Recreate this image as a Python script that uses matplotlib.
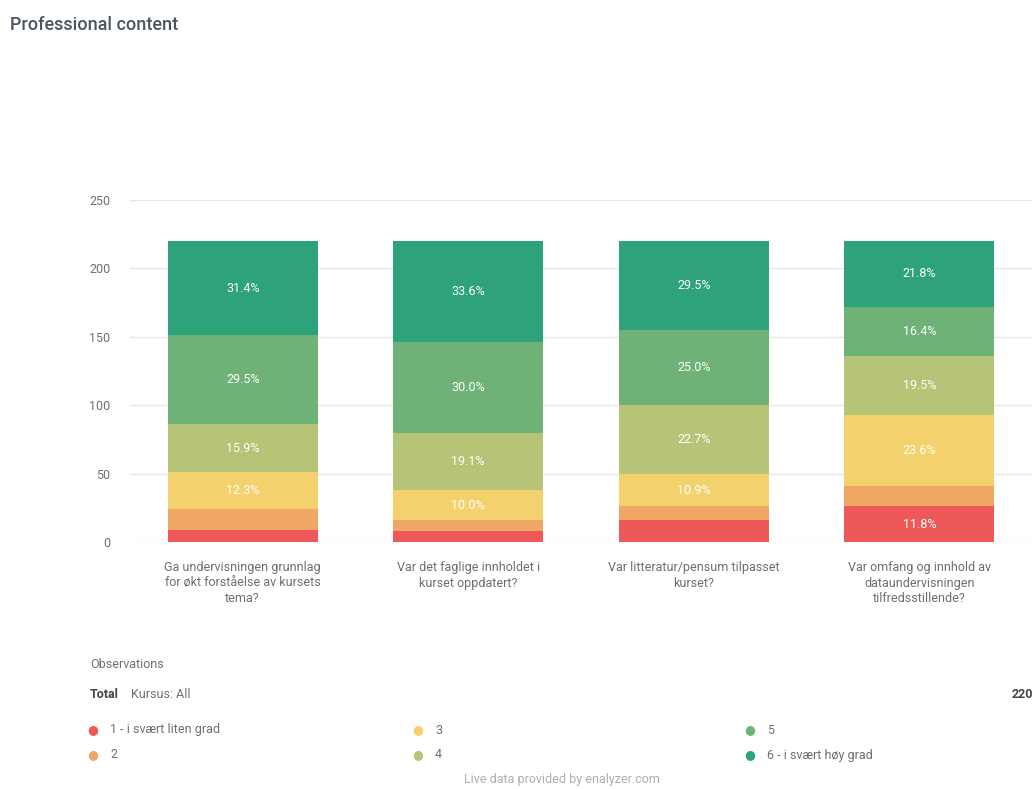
import matplotlib
matplotlib.use("Agg")
import matplotlib.pyplot as plt
import numpy as np

plt.rcParams['font.family'] = ['Roboto', 'DejaVu Sans']

categories = [
    "Ga undervisningen grunnlag\nfor økt forståelse av kursets\ntema?",
    "Var det faglige innholdet i\nkurset oppdatert?",
    "Var litteratur/pensum tilpasset\nkurset?",
    "Var omfang og innhold av\ndataundervisningen\ntilfredsstillende?",
]
series_names = ["1 - i svært liten grad", "2", "3", "4", "5", "6 - i svært høy grad"]
s1 = [9, 8, 16, 26]
s2 = [15, 8, 10, 15]
s3 = [27, 22, 24, 52]
s4 = [35, 42, 50, 43]
s5 = [65, 66, 55, 36]
s6 = [69, 74, 65, 48]
series = [s1, s2, s3, s4, s5, s6]
colors = ["#ee5858", "#f0a665", "#f3d26e", "#b5c476", "#6fb277", "#2ea27b"]
yticks = [0, 50, 100, 150, 200, 250]
total_n = 220

W, H = 1035, 789
fig = plt.figure(figsize=(W / 100, H / 100), dpi=100)
ax = fig.add_axes([130 / W, 1 - 542 / H, 902 / W, (542 - 200) / H])

x = np.arange(len(categories))
bottom = np.zeros(len(categories))
totals = np.sum(series, axis=0)
for vals, col in zip(series, colors):
    vals = np.array(vals, dtype=float)
    ax.bar(x, vals, bottom=bottom, width=0.667, color=col, zorder=2)
    for xi, v, b, t in zip(x, vals, bottom, totals):
        pct = v / t * 100
        if pct >= 10:
            ax.text(xi, b + v / 2, f"{pct:.1f}%", ha="center", va="center",
                    color="white", fontsize=9, zorder=3)
    bottom += vals

ax.set_xlim(-0.5, len(categories) - 0.5)
ax.set_ylim(0, 250)
ax.set_yticks(yticks)
ax.set_yticklabels([str(t) for t in yticks])
ax.set_xticks(x)
ax.set_xticklabels(categories, fontsize=9, color="#6b6f75", linespacing=1.25)
ax.tick_params(axis="y", length=0, pad=14, labelcolor="#6b6f75", labelsize=9)
ax.tick_params(axis="x", length=0, pad=14)
ax.grid(axis="y", color="#e6e6e6", linewidth=1, zorder=0)
for s in ax.spines.values():
    s.set_visible(False)

fig.text(10 / W, 1 - 25 / H, "Professional content", fontsize=13, color="#4a5560",
         fontweight="medium", ha="left", va="center")

fig.text(90 / W, 1 - 664 / H, "Observations", fontsize=9, color="#6b6f75", va="center")
fig.text(90 / W, 1 - 694 / H, "Total", fontsize=9, color="#444444", fontweight="bold", va="center")
fig.text(131 / W, 1 - 694 / H, "Kursus: All", fontsize=9, color="#6b6f75", va="center")
fig.text(1033 / W, 1 - 694 / H, str(total_n), fontsize=9, color="#444444", fontweight="bold",
         va="center", ha="right")

leg_x = [93, 418, 750]
leg_y = [730, 755]
for i, (name, col) in enumerate(zip(series_names, colors)):
    cx = leg_x[i // 2]
    cy = leg_y[i % 2]
    fig.text(cx / W, 1 - cy / H, "●", fontsize=9, color=col, ha="center", va="center")
    fig.text((cx + 17) / W, 1 - cy / H, name, fontsize=9, color="#6b6f75", va="center")

fig.text(562 / W, 1 - 780 / H, "Live data provided by enalyzer.com", fontsize=9,
         color="#aab0b8", ha="center", va="center")

fig.savefig("out.png", dpi=100)
